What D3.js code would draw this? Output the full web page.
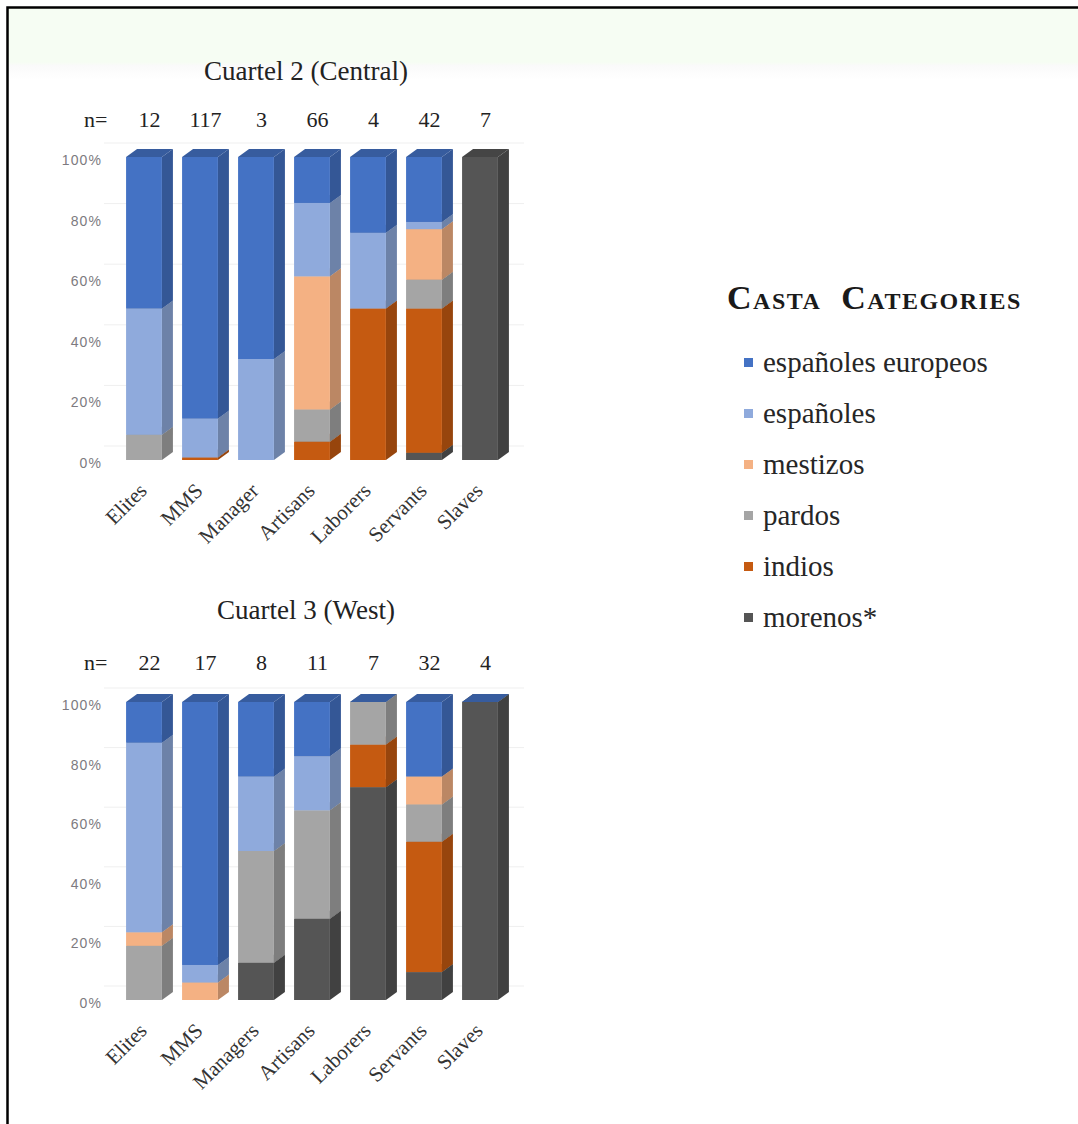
<!DOCTYPE html>
<html>
<head>
<meta charset="utf-8">
<script src="https://cdn.jsdelivr.net/npm/d3@7/dist/d3.min.js"></script>
<style>
  html, body { margin: 0; padding: 0; background: #fff; }
  svg { display: block; }
</style>
</head>
<body>
<svg id="fig" width="1078" height="1124"></svg>
<script>
// Occupational groups per cuartel
const categoriesCentral = ["Elites", "MMS", "Manager", "Artisans", "Laborers", "Servants", "Slaves"];
const categoriesWest    = ["Elites", "MMS", "Managers", "Artisans", "Laborers", "Servants", "Slaves"];

// Sample sizes (n=) shown above each column
const nCentral = [12, 117, 3, 66, 4, 42, 7];
const nWest    = [22, 17, 8, 11, 7, 32, 4];

// Casta series, stacked bottom to top; null = no segment
const seriesKeys   = ["morenos", "indios", "pardos", "mestizos", "espanolesAm", "espanolesEu"];
const seriesLabels = ["morenos*", "indios", "pardos", "mestizos", "españoles", "españoles europeos"];
const seriesColors = ["#555555", "#C55A11", "#A5A5A5", "#F4B183", "#8FAADC", "#4472C4"];

// Counts per casta, Cuartel 2 (Central)
const centralMorenos   = [null, null, null, null, null, 1, 7];
const centralIndios    = [null, 1, null, 4, 2, 20, null];
const centralPardos    = [1, null, null, 7, null, 4, null];
const centralMestizos  = [null, null, null, 29, null, 7, null];
const centralEspanoles = [5, 15, 1, 16, 1, 1, null];
const centralEuropeos  = [6, 101, 2, 10, 1, 9, null];

// Counts per casta, Cuartel 3 (West)
const westMorenos   = [null, null, 1, 3, 5, 3, 4];
const westIndios    = [null, null, null, null, 1, 14, null];
const westPardos    = [4, null, 3, 4, 1, 4, null];
const westMestizos  = [1, 1, null, null, null, 3, null];
const westEspanoles = [14, 1, 2, 2, null, null, null];
const westEuropeos  = [3, 15, 2, 2, 0, 8, 0];

const yTicks = [0, 0.2, 0.4, 0.6, 0.8, 1];

const svg = d3.select("#fig");
const SERIF = "'Liberation Serif', 'Times New Roman', serif";
const SANS = "'Liberation Sans', Arial, sans-serif";

// Frame and pale header band
const defs = svg.append("defs");
const fade = defs.append("linearGradient").attr("id", "bandFade")
  .attr("x1", 0).attr("y1", 0).attr("x2", 0).attr("y2", 1);
fade.append("stop").attr("offset", "0").attr("stop-color", "#f6fdf3");
fade.append("stop").attr("offset", "0.75").attr("stop-color", "#f6fdf3");
fade.append("stop").attr("offset", "0.8").attr("stop-color", "#fafafa");
fade.append("stop").attr("offset", "1").attr("stop-color", "#ffffff");
svg.append("rect").attr("x", 8).attr("y", 8).attr("width", 1070).attr("height", 72)
  .attr("fill", "url(#bandFade)");
svg.append("path").attr("d", "M1078,7.5H7.5V1124")
  .attr("fill", "none").attr("stroke", "#000").attr("stroke-width", 2.5);

const depthX = 11, depthY = 8;   // oblique offset of the 3D columns

function drawChart(opts) {
  const g = svg.append("g");
  const x = d3.scaleBand().domain(opts.categories).range([116, 508])
    .paddingInner(0.36).paddingOuter(0.18);
  const y = d3.scaleLinear().domain([0, 1]).range(opts.yRange);

  // rows of percentages keyed by series
  const rows = opts.categories.map((c, i) => {
    const r = { cat: c };
    seriesKeys.forEach((k, s) => {
      const v = opts.counts[s][i];
      r[k] = v == null ? null : v / opts.n[i];
    });
    return r;
  });
  const stack = d3.stack().keys(seriesKeys).value((d, k) => d[k] == null ? 0 : d[k]);
  const layers = stack(rows);

  // back-wall gridlines
  g.append("g").selectAll("line").data(yTicks).join("line")
    .attr("x1", 104).attr("x2", 524)
    .attr("y1", d => y(d) - 14).attr("y2", d => y(d) - 14)
    .attr("stroke", "#efefef").attr("stroke-width", 1);

  // title
  g.append("text").attr("x", 306).attr("y", opts.titleY)
    .attr("text-anchor", "middle").attr("font-family", SERIF).attr("font-size", 27)
    .attr("fill", "#222").text(opts.title);

  // n= labels
  g.append("text").attr("x", 84).attr("y", opts.nY)
    .attr("font-family", SERIF).attr("font-size", 22).attr("fill", "#222").text("n=");
  g.append("g").selectAll("text").data(opts.categories).join("text")
    .attr("x", (d, i) => x(d) + (x.bandwidth() + depthX) / 2)
    .attr("y", opts.nY).attr("text-anchor", "middle")
    .attr("font-family", SERIF).attr("font-size", 22).attr("fill", "#222")
    .text((d, i) => opts.n[i]);

  // y axis
  const yAxis = d3.axisLeft(y).tickValues(yTicks).tickFormat(d3.format(".0%"))
    .tickSize(0).tickPadding(0);
  const ax = g.append("g").attr("transform", "translate(102,3)").call(yAxis);
  ax.select(".domain").remove();
  ax.selectAll("text").attr("font-family", SANS).attr("font-size", 14)
    .attr("letter-spacing", 1.1).attr("fill", "#7d7a80");

  // stacked 3D columns, drawn segment by segment from the bottom
  const bw = x.bandwidth();
  const colG = g.append("g");
  opts.categories.forEach((cat, i) => {
    layers.forEach((layer, s) => {
      if (rows[i][seriesKeys[s]] == null) return;
      const seg = layer[i];
      const x0 = x(cat), x1 = x0 + bw;
      const yb = y(seg[0]), yt = y(seg[1]);
      const base = d3.color(seriesColors[s]);
      const side = base.darker(0.75).formatHex();
      const top = base.darker(0.6).formatHex();
      colG.append("path")
        .attr("d", `M${x1},${yb}L${x1 + depthX},${yb - depthY}L${x1 + depthX},${yt - depthY}L${x1},${yt}Z`)
        .attr("fill", side);
      colG.append("rect").attr("x", x0).attr("y", yt).attr("width", bw).attr("height", Math.max(0, yb - yt))
        .attr("fill", base.formatHex());
      colG.append("path")
        .attr("d", `M${x0},${yt}L${x1},${yt}L${x1 + depthX},${yt - depthY}L${x0 + depthX},${yt - depthY}Z`)
        .attr("fill", top);
    });
  });

  // category labels, rotated
  const y0 = y(0);
  g.append("g").selectAll("text").data(opts.categories).join("text")
    .attr("transform", d => `translate(${x(d) + bw / 2 + 4},${y0 + 32}) rotate(-45)`)
    .attr("text-anchor", "end").attr("font-family", SERIF).attr("font-size", 21)
    .attr("fill", "#333").text(d => d);
}

drawChart({
  title: "Cuartel 2 (Central)", titleY: 80, nY: 127,
  categories: categoriesCentral, n: nCentral,
  counts: [centralMorenos, centralIndios, centralPardos, centralMestizos, centralEspanoles, centralEuropeos],
  yRange: [460, 157]
});
drawChart({
  title: "Cuartel 3 (West)", titleY: 619, nY: 670,
  categories: categoriesWest, n: nWest,
  counts: [westMorenos, westIndios, westPardos, westMestizos, westEspanoles, westEuropeos],
  yRange: [1000, 702]
});

// Legend
const leg = svg.append("g");
leg.append("text").attr("x", 727).attr("y", 309)
  .attr("font-family", SERIF).attr("font-size", 34).attr("font-variant", "small-caps")
  .attr("letter-spacing", 1.5).attr("fill", "#1a1a1a").attr("font-weight", "bold")
  .style("white-space", "pre").text("Casta  Categories");
const legendOrder = d3.range(seriesKeys.length).reverse();
const legY = d3.scalePoint().domain(legendOrder).range([363, 618]);
legendOrder.forEach(s => {
  leg.append("rect").attr("x", 744).attr("y", legY(s) - 5).attr("width", 9).attr("height", 9)
    .attr("fill", seriesColors[s]);
  leg.append("text").attr("x", 763).attr("y", legY(s) + 9)
    .attr("font-family", SERIF).attr("font-size", 29).attr("fill", "#262626")
    .text(seriesLabels[s]);
});
</script>
</body>
</html>
